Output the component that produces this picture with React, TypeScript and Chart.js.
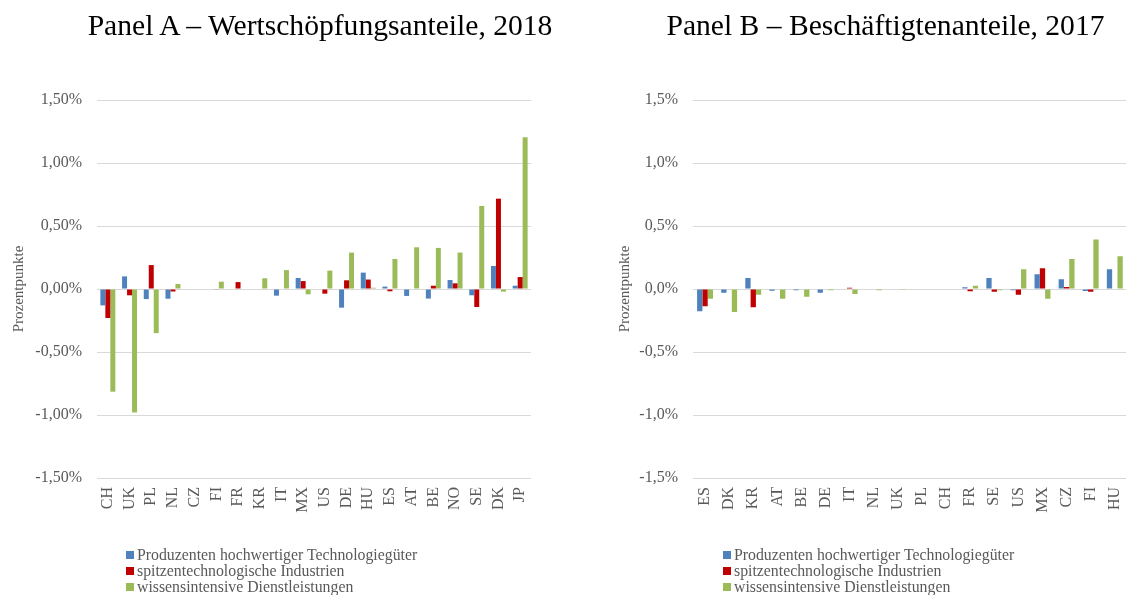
import React, { useEffect, useRef } from "react";
import { Chart, registerables } from "chart.js";

Chart.register(...registerables);

const seriesNames = [
  "Produzenten hochwertiger Technologiegüter",
  "spitzentechnologische Industrien",
  "wissensintensive Dienstleistungen",
];
const seriesColors = ["#4F81BD", "#C00000", "#9BBB59"];

const titleA = "Panel A – Wertschöpfungsanteile, 2018";
const categoriesA = ["CH", "UK", "PL", "NL", "CZ", "FI", "FR", "KR", "IT", "MX", "US", "DE", "HU", "ES", "AT", "BE", "NO", "SE", "DK", "JP"];
const hightechA = [-0.13, 0.1, -0.08, -0.077, 0, 0, 0, 0, -0.053, 0.087, 0, -0.148, 0.13, 0.019, -0.055, -0.076, 0.071, -0.05, 0.183, 0.026];
const spitzenA = [-0.23, -0.05, 0.19, -0.02, 0, -0.005, 0.055, 0, 0, 0.063, -0.037, 0.069, 0.075, -0.018, 0, 0.026, 0.045, -0.143, 0.717, 0.095];
const wissenA = [-0.815, -0.98, -0.35, 0.04, 0, 0.058, 0, 0.085, 0.15, -0.042, 0.146, 0.289, 0.01, 0.238, 0.331, 0.326, 0.289, 0.659, -0.021, 1.204];

const titleB = "Panel B – Beschäftigtenanteile, 2017";
const categoriesB = ["ES", "DK", "KR", "AT", "BE", "DE", "IT", "NL", "UK", "PL", "CH", "FR", "SE", "US", "MX", "CZ", "FI", "HU"];
const hightechB = [-0.177, -0.03, 0.087, -0.013, -0.01, -0.03, 0, 0, 0, 0, 0, 0.013, 0.087, -0.01, 0.117, 0.077, -0.015, 0.156];
const spitzenB = [-0.137, 0, -0.145, 0, 0, 0, 0.01, 0, 0, 0, 0, -0.018, -0.021, -0.045, 0.164, 0.015, -0.021, 0];
const wissenB = [-0.077, -0.183, -0.045, -0.077, -0.061, -0.01, -0.04, -0.01, -0.005, 0, 0, 0.026, -0.01, 0.156, -0.077, 0.238, 0.392, 0.26];

const yMin = -1.5;
const yMax = 1.5;
const yStep = 0.5;
const yAxisTitle = "Prozentpunkte";

const FONT = "'Liberation Serif', 'Times New Roman', Times, serif";
const GRAY = "#595959";

type PanelProps = {
  labels: string[];
  values: number[][];
  decimals: number;
  left: number;
  width: number;
  yWidth: number;
  titlePad: number;
  padRight: number;
  catPct: number;
};

function Panel(props: PanelProps) {
  const ref = useRef<HTMLCanvasElement | null>(null);
  useEffect(() => {
    if (!ref.current) return;
    const chart = new Chart(ref.current, {
      type: "bar",
      data: {
        labels: props.labels,
        datasets: props.values.map((v, i) => ({
          label: seriesNames[i],
          data: v,
          backgroundColor: seriesColors[i],
          borderWidth: 0,
          categoryPercentage: props.catPct,
          barPercentage: 1,
        })),
      },
      options: {
        animation: false,
        responsive: false,
        maintainAspectRatio: false,
        layout: { padding: { top: 100, left: 0, right: props.padRight, bottom: 0 } },
        plugins: {
          legend: { display: false },
          title: { display: false },
          tooltip: { enabled: false },
        },
        scales: {
          x: {
            grid: { display: false, drawTicks: false },
            border: { display: false },
            ticks: {
              minRotation: 90,
              maxRotation: 90,
              autoSkip: false,
              padding: 9,
              color: GRAY,
              font: { family: FONT, size: 16 },
            },
            afterFit: (s: any) => {
              s.height = 117;
            },
          },
          y: {
            min: yMin,
            max: yMax,
            ticks: {
              stepSize: yStep,
              padding: 15,
              color: GRAY,
              font: { family: FONT, size: 16 },
              callback: (v: any) => Number(v).toFixed(props.decimals).replace(".", ",") + "%",
            },
            grid: { color: "#d9d9d9", lineWidth: 1, drawTicks: false },
            border: { display: false },
            title: {
              display: true,
              text: yAxisTitle,
              color: GRAY,
              font: { family: FONT, size: 15 },
              padding: { top: props.titlePad, bottom: 0 },
            },
            afterFit: (s: any) => {
              s.width = props.yWidth;
            },
          },
        },
      } as any,
    });
    return () => chart.destroy();
  }, []);
  return (
    <canvas
      ref={ref}
      width={props.width}
      height={595}
      style={{ position: "absolute", left: props.left, top: 0, width: props.width, height: 595 }}
    />
  );
}

function Legend({ left }: { left: number }) {
  return (
    <div style={{ position: "absolute", left, top: 547, fontFamily: FONT, fontSize: 15.8, color: GRAY }}>
      {seriesNames.map((n, i) => (
        <div key={n} style={{ display: "flex", alignItems: "center", height: 16, lineHeight: "16px", whiteSpace: "nowrap" }}>
          <span style={{ display: "inline-block", width: 8, height: 8, background: seriesColors[i], marginRight: 3 }} />
          <span>{n}</span>
        </div>
      ))}
    </div>
  );
}

function Title({ text, center }: { text: string; center: number }) {
  return (
    <div
      style={{
        position: "absolute",
        left: center - 300,
        width: 600,
        top: 11,
        textAlign: "center",
        fontFamily: FONT,
        fontSize: 29.6,
        lineHeight: "29px",
        color: "#000",
        whiteSpace: "nowrap",
      }}
    >
      {text}
    </div>
  );
}

export default function App() {
  return (
    <div style={{ position: "absolute", left: 0, top: 0, width: 1126, height: 595, overflow: "hidden", background: "#fff" }}>
      <Panel
        labels={categoriesA}
        values={[hightechA, spitzenA, wissenA]}
        decimals={2}
        left={0}
        width={570}
        yWidth={97}
        titlePad={10}
        padRight={39}
        catPct={0.69}
      />
      <Panel
        labels={categoriesB}
        values={[hightechB, spitzenB, wissenB]}
        decimals={1}
        left={600}
        width={543}
        yWidth={93}
        titlePad={16}
        padRight={0}
        catPct={0.66}
      />
      <Title text={titleA} center={320} />
      <Title text={titleB} center={885.5} />
      <Legend left={126} />
      <Legend left={723} />
    </div>
  );
}
